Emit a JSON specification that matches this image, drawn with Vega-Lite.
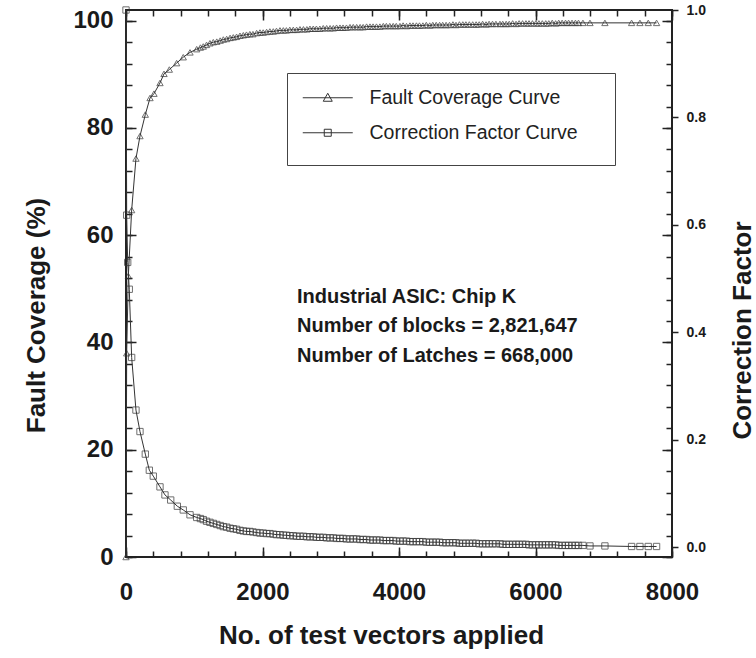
{
  "$schema": "https://vega.github.io/schema/vega-lite/v6.json",
  "width": 546,
  "height": 547,
  "autosize": "none",
  "padding": {"left": 126, "top": 10, "right": 84, "bottom": 101},
  "background": "white",
  "config": {
    "view": {"stroke": "#222222", "strokeWidth": 2},
    "axis": {
      "domain": false, "grid": false, "tickColor": "#222222", "tickWidth": 1.5,
      "labelFont": "Liberation Sans", "labelFontWeight": "bold", "labelColor": "#1a1a1a",
      "titleFont": "Liberation Sans", "titleFontWeight": "bold", "titleColor": "#1a1a1a"
    },
    "text": {"font": "Liberation Sans"}
  },
  "datasets": {
    "fc": [
      {"x":0,"v":0},{"x":10,"v":38},{"x":34,"v":52.4},{"x":83,"v":64.7},{"x":146,"v":74.3},{"x":205,"v":78.5},{"x":283,"v":82.5},{"x":352,"v":85.6},{"x":410,"v":86.4},{"x":498,"v":88.4},{"x":557,"v":90.1},{"x":635,"v":90.9},{"x":742,"v":92.1},{"x":839,"v":93.2},{"x":938,"v":94.1},{"x":1036,"v":94.7},
      {"x":1090,"v":95.0},{"x":1132,"v":95.2},{"x":1180,"v":95.5},{"x":1230,"v":95.8},{"x":1279,"v":96.0},{"x":1330,"v":96.1},{"x":1380,"v":96.3},{"x":1426,"v":96.5},{"x":1475,"v":96.6},{"x":1525,"v":96.8},{"x":1572,"v":96.9},{"x":1620,"v":97.0},{"x":1670,"v":97.2},{"x":1719,"v":97.3},{"x":1765,"v":97.4},{"x":1815,"v":97.5},{"x":1860,"v":97.5},{"x":1914,"v":97.7},{"x":1963,"v":97.8},{"x":2010,"v":97.8},{"x":2060,"v":97.9},{"x":2108,"v":98.0},{"x":2158,"v":98.0},{"x":2205,"v":98.1},{"x":2256,"v":98.2},{"x":2305,"v":98.2},{"x":2350,"v":98.2},{"x":2400,"v":98.3},{"x":2451,"v":98.3},{"x":2500,"v":98.3},{"x":2549,"v":98.4},{"x":2600,"v":98.4},{"x":2650,"v":98.4},{"x":2695,"v":98.5},{"x":2744,"v":98.5},{"x":2790,"v":98.5},{"x":2840,"v":98.5},{"x":2890,"v":98.6},{"x":2940,"v":98.6},{"x":2990,"v":98.6},{"x":3038,"v":98.6},{"x":3085,"v":98.7},{"x":3135,"v":98.7},{"x":3180,"v":98.7},{"x":3230,"v":98.7},{"x":3282,"v":98.8},{"x":3330,"v":98.8},{"x":3380,"v":98.8},{"x":3430,"v":98.8},{"x":3475,"v":98.8},{"x":3525,"v":98.9},{"x":3575,"v":98.9},{"x":3620,"v":98.9},{"x":3670,"v":98.9},{"x":3720,"v":98.9},{"x":3770,"v":99.0},{"x":3815,"v":99.0},{"x":3865,"v":99.0},{"x":3915,"v":99.0},{"x":3960,"v":99.0},{"x":4014,"v":99.0},{"x":4060,"v":99.1},{"x":4110,"v":99.0},{"x":4160,"v":99.1},{"x":4205,"v":99.1},{"x":4255,"v":99.1},{"x":4300,"v":99.1},{"x":4350,"v":99.1},{"x":4400,"v":99.2},{"x":4450,"v":99.1},{"x":4495,"v":99.2},{"x":4545,"v":99.2},{"x":4595,"v":99.2},{"x":4640,"v":99.2},{"x":4690,"v":99.2},{"x":4740,"v":99.2},{"x":4790,"v":99.3},{"x":4835,"v":99.2},{"x":4885,"v":99.3},{"x":4935,"v":99.3},{"x":4980,"v":99.3},{"x":5030,"v":99.3},{"x":5080,"v":99.3},{"x":5130,"v":99.3},{"x":5175,"v":99.3},{"x":5225,"v":99.4},{"x":5275,"v":99.3},{"x":5320,"v":99.4},{"x":5370,"v":99.4},{"x":5420,"v":99.4},{"x":5479,"v":99.4},{"x":5520,"v":99.4},{"x":5570,"v":99.4},{"x":5615,"v":99.4},{"x":5665,"v":99.5},{"x":5715,"v":99.4},{"x":5760,"v":99.5},{"x":5810,"v":99.5},{"x":5860,"v":99.5},{"x":5905,"v":99.5},{"x":5955,"v":99.5},{"x":6005,"v":99.5},{"x":6050,"v":99.5},{"x":6100,"v":99.5},{"x":6150,"v":99.5},{"x":6195,"v":99.5},{"x":6245,"v":99.6},{"x":6295,"v":99.5},{"x":6340,"v":99.6},{"x":6390,"v":99.6},{"x":6440,"v":99.6},{"x":6485,"v":99.6},{"x":6535,"v":99.6},{"x":6585,"v":99.6},{"x":6630,"v":99.6},{"x":6695,"v":99.6},
      {"x":6798,"v":99.6},{"x":7017,"v":99.6},{"x":7408,"v":99.6},{"x":7530,"v":99.6},{"x":7652,"v":99.6},{"x":7774,"v":99.6}
    ],
    "cf": [
      {"x":0,"v":1.0},{"x":10,"v":0.618},{"x":25,"v":0.53},{"x":48,"v":0.48},{"x":83,"v":0.353},{"x":146,"v":0.255},{"x":205,"v":0.215},{"x":283,"v":0.173},{"x":342,"v":0.143},{"x":400,"v":0.132},{"x":498,"v":0.112},{"x":571,"v":0.097},{"x":655,"v":0.0875},{"x":752,"v":0.076},{"x":839,"v":0.069},{"x":938,"v":0.06},{"x":1036,"v":0.055},
      {"x":1090,"v":0.053},{"x":1132,"v":0.051},{"x":1180,"v":0.048},{"x":1230,"v":0.046},{"x":1279,"v":0.044},{"x":1330,"v":0.042},{"x":1380,"v":0.040},{"x":1426,"v":0.038},{"x":1475,"v":0.037},{"x":1525,"v":0.035},{"x":1572,"v":0.034},{"x":1620,"v":0.033},{"x":1670,"v":0.031},{"x":1719,"v":0.030},{"x":1765,"v":0.029},{"x":1815,"v":0.029},{"x":1860,"v":0.028},{"x":1914,"v":0.027},{"x":1963,"v":0.026},{"x":2010,"v":0.026},{"x":2060,"v":0.025},{"x":2108,"v":0.025},{"x":2158,"v":0.024},{"x":2205,"v":0.023},{"x":2256,"v":0.023},{"x":2305,"v":0.022},{"x":2350,"v":0.022},{"x":2400,"v":0.021},{"x":2451,"v":0.021},{"x":2500,"v":0.020},{"x":2549,"v":0.020},{"x":2600,"v":0.020},{"x":2650,"v":0.019},{"x":2695,"v":0.019},{"x":2744,"v":0.019},{"x":2790,"v":0.018},{"x":2840,"v":0.018},{"x":2890,"v":0.018},{"x":2940,"v":0.017},{"x":2990,"v":0.017},{"x":3038,"v":0.017},{"x":3085,"v":0.016},{"x":3135,"v":0.016},{"x":3180,"v":0.016},{"x":3230,"v":0.015},{"x":3282,"v":0.015},{"x":3330,"v":0.015},{"x":3380,"v":0.015},{"x":3430,"v":0.014},{"x":3475,"v":0.014},{"x":3525,"v":0.014},{"x":3575,"v":0.013},{"x":3620,"v":0.013},{"x":3670,"v":0.013},{"x":3720,"v":0.013},{"x":3770,"v":0.012},{"x":3815,"v":0.012},{"x":3865,"v":0.012},{"x":3915,"v":0.012},{"x":3960,"v":0.011},{"x":4014,"v":0.011},{"x":4060,"v":0.011},{"x":4110,"v":0.011},{"x":4160,"v":0.010},{"x":4205,"v":0.010},{"x":4255,"v":0.010},{"x":4300,"v":0.010},{"x":4350,"v":0.010},{"x":4400,"v":0.009},{"x":4450,"v":0.009},{"x":4495,"v":0.009},{"x":4545,"v":0.009},{"x":4595,"v":0.009},{"x":4640,"v":0.008},{"x":4690,"v":0.008},{"x":4740,"v":0.008},{"x":4790,"v":0.008},{"x":4835,"v":0.008},{"x":4885,"v":0.007},{"x":4935,"v":0.007},{"x":4980,"v":0.007},{"x":5030,"v":0.007},{"x":5080,"v":0.007},{"x":5130,"v":0.007},{"x":5175,"v":0.006},{"x":5225,"v":0.006},{"x":5275,"v":0.006},{"x":5320,"v":0.006},{"x":5370,"v":0.006},{"x":5420,"v":0.006},{"x":5479,"v":0.006},{"x":5520,"v":0.005},{"x":5570,"v":0.005},{"x":5615,"v":0.005},{"x":5665,"v":0.005},{"x":5715,"v":0.005},{"x":5760,"v":0.005},{"x":5810,"v":0.005},{"x":5860,"v":0.005},{"x":5905,"v":0.004},{"x":5955,"v":0.004},{"x":6005,"v":0.004},{"x":6050,"v":0.004},{"x":6100,"v":0.004},{"x":6150,"v":0.004},{"x":6195,"v":0.004},{"x":6245,"v":0.004},{"x":6295,"v":0.004},{"x":6340,"v":0.003},{"x":6390,"v":0.003},{"x":6440,"v":0.003},{"x":6485,"v":0.003},{"x":6535,"v":0.003},{"x":6585,"v":0.003},{"x":6630,"v":0.003},{"x":6695,"v":0.003},
      {"x":6798,"v":0.002},{"x":7017,"v":0.002},{"x":7408,"v":0.001},{"x":7530,"v":0.001},{"x":7652,"v":0.001},{"x":7774,"v":0.001}
    ],
    "note1": [{"x": 2505, "v": 48.5, "t": "Industrial ASIC: Chip K"}],
    "note2": [
      {"x": 2505, "v": 43.1, "t": "Number of blocks = 2,821,647"},
      {"x": 2505, "v": 37.5, "t": "Number of Latches = 668,000"}
    ]
  },
  "layer": [
    {
      "data": {"name": "fc"},
      "mark": {"type": "line", "strokeWidth": 1},
      "encoding": {
        "x": {"field": "x", "type": "quantitative", "scale": {"domain": [0, 8000], "nice": false, "zero": false},
          "axis": {"orient": "bottom", "values": [0, 2000, 4000, 6000, 8000], "format": "d", "tickSize": -10, "labelFontSize": 24, "labelPadding": 33, "labelFlush": false,
            "title": "No. of test vectors applied", "titleFontSize": 26, "titleBaseline": "alphabetic", "titleX": 255, "titleY": 86}},
        "y": {"field": "v", "type": "quantitative", "scale": {"domain": [0, 102], "nice": false, "zero": false},
          "axis": {"orient": "left", "values": [0, 20, 40, 60, 80, 100], "tickSize": -10, "labelFontSize": 24, "labelPadding": 23,
            "title": "Fault Coverage (%)", "titleFontSize": 26, "titleBaseline": "alphabetic", "titleX": -82, "titleY": 305}},
        "color": {"datum": "Fault Coverage Curve",
          "scale": {"domain": ["Fault Coverage Curve", "Correction Factor Curve"], "range": ["#333333", "#333333"]},
          "legend": {
            "orient": "none", "legendX": 161, "legendY": 63, "title": null,
            "strokeColor": "#444444", "fillColor": "white", "padding": 15,
            "labelFont": "Liberation Sans", "labelFontSize": 19.5, "labelColor": "#222222", "labelLimit": 0,
            "symbolSize": 100, "symbolOffset": 16, "labelOffset": 32, "rowPadding": 0,
            "encode": {"symbols": {"update": {
              "shape": {"signal": "datum.value === 'Fault Coverage Curve' ? 'M-5,0H5M0,-0.9L0.9,0.7L-0.9,0.7ZM-5,-3M54,3' : 'M-5,0H5M-0.7,-0.7H0.7V0.7H-0.7ZM-5,-3M54,3'"},
              "stroke": {"value": "#333333"}, "fill": {"value": "transparent"}, "strokeWidth": {"value": 1}
            }}}
          }}
      }
    },
    {
      "data": {"name": "fc"},
      "mark": {"type": "point", "shape": "triangle-up", "filled": false, "color": "#333333", "size": 40, "strokeWidth": 1},
      "encoding": {
        "x": {"field": "x", "type": "quantitative",
          "axis": {"orient": "bottom", "values": [0,400,800,1200,1600,2000,2400,2800,3200,3600,4000,4400,4800,5200,5600,6000,6400,6800,7200,7600,8000], "tickSize": -6, "labels": false, "title": null}},
        "y": {"field": "v", "type": "quantitative", "scale": {"domain": [0, 102], "nice": false, "zero": false},
          "axis": {"orient": "left", "values": [0,4,8,12,16,20,24,28,32,36,40,44,48,52,56,60,64,68,72,76,80,84,88,92,96,100], "tickSize": -6, "labels": false, "title": null}}
      }
    },
    {
      "data": {"name": "note1"},
      "mark": {"type": "text", "align": "left", "baseline": "middle", "fontSize": 20, "fontWeight": "bold", "color": "#1a1a1a"},
      "encoding": {
        "x": {"field": "x", "type": "quantitative",
          "axis": {"orient": "top", "values": [0, 2000, 4000, 6000, 8000], "tickSize": -10, "labels": false, "title": null}},
        "y": {"field": "v", "type": "quantitative", "scale": {"domain": [0, 102], "nice": false, "zero": false},
          "axis": {"orient": "right", "values": [0, 20, 40, 60, 80, 100], "tickSize": -10, "labels": false, "title": null}},
        "text": {"field": "t"}
      }
    },
    {
      "data": {"name": "note2"},
      "mark": {"type": "text", "align": "left", "baseline": "middle", "fontSize": 20, "fontWeight": "bold", "color": "#1a1a1a"},
      "encoding": {
        "x": {"field": "x", "type": "quantitative",
          "axis": {"orient": "top", "values": [0,400,800,1200,1600,2000,2400,2800,3200,3600,4000,4400,4800,5200,5600,6000,6400,6800,7200,7600,8000], "tickSize": -6, "labels": false, "title": null}},
        "y": {"field": "v", "type": "quantitative", "scale": {"domain": [0, 102], "nice": false, "zero": false},
          "axis": {"orient": "right", "values": [0,4,8,12,16,20,24,28,32,36,40,44,48,52,56,60,64,68,72,76,80,84,88,92,96,100], "tickSize": -6, "labels": false, "title": null}},
        "text": {"field": "t"}
      }
    },
    {
      "data": {"name": "cf"},
      "mark": {"type": "line", "strokeWidth": 1},
      "encoding": {
        "x": {"field": "x", "type": "quantitative", "axis": null},
        "y": {"field": "v", "type": "quantitative", "scale": {"domain": [-0.0186, 1.0], "nice": false, "zero": false},
          "axis": {"orient": "right", "values": [0, 0.2, 0.4, 0.6, 0.8, 1.0], "format": ".1f", "tickSize": 6, "labelFontSize": 14, "labelPadding": 8,
            "title": "Correction Factor", "titleFontSize": 26, "titleAngle": 270, "titleBaseline": "alphabetic", "titleX": 78, "titleY": 320}},
        "color": {"datum": "Correction Factor Curve"}
      }
    },
    {
      "data": {"name": "cf"},
      "mark": {"type": "point", "shape": "square", "filled": false, "color": "#333333", "size": 40, "strokeWidth": 1},
      "encoding": {
        "x": {"field": "x", "type": "quantitative", "axis": null},
        "y": {"field": "v", "type": "quantitative", "scale": {"domain": [-0.0186, 1.0], "nice": false, "zero": false}, "axis": null}
      }
    }
  ],
  "resolve": {"scale": {"y": "independent"}, "axis": {"x": "independent", "y": "independent"}}
}
